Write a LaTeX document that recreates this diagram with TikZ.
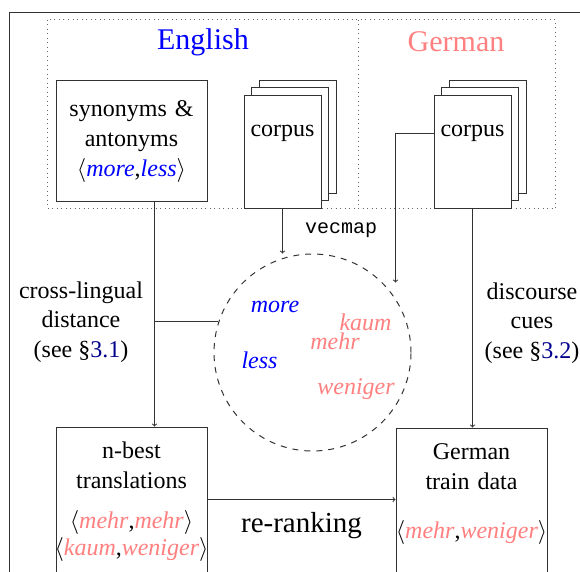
\RequirePackage{fix-cm}
\documentclass[tikz,border=0pt]{standalone}
\usepackage{fontspec}
\setmainfont{Liberation Serif}
\setmonofont{Liberation Mono}
\usetikzlibrary{shadows}
\definecolor{enblue}{RGB}{0,0,255}
\definecolor{depink}{RGB}{255,128,128}
\definecolor{refblue}{RGB}{0,0,140}
\definecolor{linec}{RGB}{50,50,50}
\newcommand\ctrline[1]{\makebox[\linewidth][c]{#1}}
\newcommand\en[1]{\textit{\color{enblue}#1}}
\newcommand\de[1]{\textit{\color{depink}#1}}
\begin{document}
\begin{tikzpicture}[x=1pt,y=-1pt,line width=1pt,
  every node/.style={font=\fontsize{24}{30}\selectfont},
  boxnode/.style={draw=linec,fill=white,inner sep=0pt,align=center,anchor=base,text width=151pt},
  pagenode/.style={boxnode,text width=77pt,text height=41pt,text depth=72pt,
    double copy shadow={shadow xshift=7.5pt,shadow yshift=7.5pt,draw=linec,fill=white}},
  word/.style={anchor=base,inner sep=0pt},
  title/.style={anchor=base,inner sep=0pt,font=\fontsize{30}{36}\selectfont},
  side/.style={anchor=base,inner sep=0pt,align=center,font=\fontsize{24}{29.5}\selectfont},
  conn/.style={draw=linec,->},
  line/.style={draw=linec}]
\useasboundingbox (0,0) rectangle (580,571);
\clip (0,0) rectangle (580,571);
% outer frame
\draw[linec] (9.5,12.5) rectangle (650,650);
% dotted language region
\draw[black!60,dash pattern=on 1pt off 3.5pt] (47.5,19.5) rectangle (555.5,208.5);
\draw[black!60,dash pattern=on 1pt off 3.5pt] (358.5,19.5) -- (358.5,208.5);
\node[title,text=enblue] (english) at (203,49) {English};
\node[title,text=depink] (german) at (456,51) {German};
% top boxes
\node[boxnode,text height=36pt,text depth=85pt] (syn) at (131.5,116)
  {synonyms \&\\antonyms\\$\langle$\en{more},\en{less}$\rangle$};
\node[pagenode] (ecorpus) at (282.5,136) {corpus};
\node[pagenode] (gcorpus) at (472.5,136) {corpus};
% embedding space
\node[draw=linec,dash pattern=on 6pt off 6pt,circle,minimum size=197pt,inner sep=0pt] (circ) at (312.5,352.5) {};
\node[word] (wmore) at (275,312) {\en{more}};
\node[word] (wkaum) at (365.5,330) {\de{kaum}};
\node[word] (wmehr) at (335,349) {\de{mehr}};
\node[word] (wless) at (259.5,368) {\en{less}};
\node[word] (wweniger) at (356,394) {\de{weniger}};
\node[word,font=\fontsize{20}{24}\selectfont\ttfamily] (vecmap) at (341,233) {vecmap};
% bottom boxes
\node[boxnode,text height=31pt,text depth=160pt] (nbest) at (131.5,458)
  {n-best\\translations\\[10pt]\ctrline{$\langle$\de{mehr},\de{mehr}$\rangle$}\\[-3pt]\ctrline{$\langle$\de{kaum},\de{weniger}$\rangle$}};
\node[boxnode,text height=31pt,text depth=160pt] (gtrain) at (471.5,459)
  {German\\train data\\[19pt]\ctrline{$\langle$\de{mehr},\de{weniger}$\rangle$}};
% side labels (base = last line)
\node[side] (cross) at (81,357) {cross-lingual\\distance\\(see \S{\color{refblue}3.1})};
\node[side] (disc) at (532,358) {discourse\\cues\\(see \S{\color{refblue}3.2})};
\node[word,font=\fontsize{29}{34}\selectfont] (rerank) at (301.5,532) {re-ranking};
% connectors
\coordinate (sx) at ([xshift=23pt]syn.south);
\draw[conn] (sx) -- (sx |- nbest.north);
\draw[line] (circ.162) -- (circ.162 -| sx);
\draw[conn] (ecorpus.south) -- (ecorpus.south |- circ.north);
\coordinate (gtip) at (gtrain.west |- circ.45);
\draw[conn] ([yshift=18.5pt]gcorpus.west) -| (gtip);
\draw[conn] (gcorpus.south) -- (gcorpus.south |- gtrain.north);
\coordinate (rr) at (0,499.5);
\draw[conn] (nbest.east |- rr) -- (gtrain.west |- rr);
\end{tikzpicture}
\end{document}
